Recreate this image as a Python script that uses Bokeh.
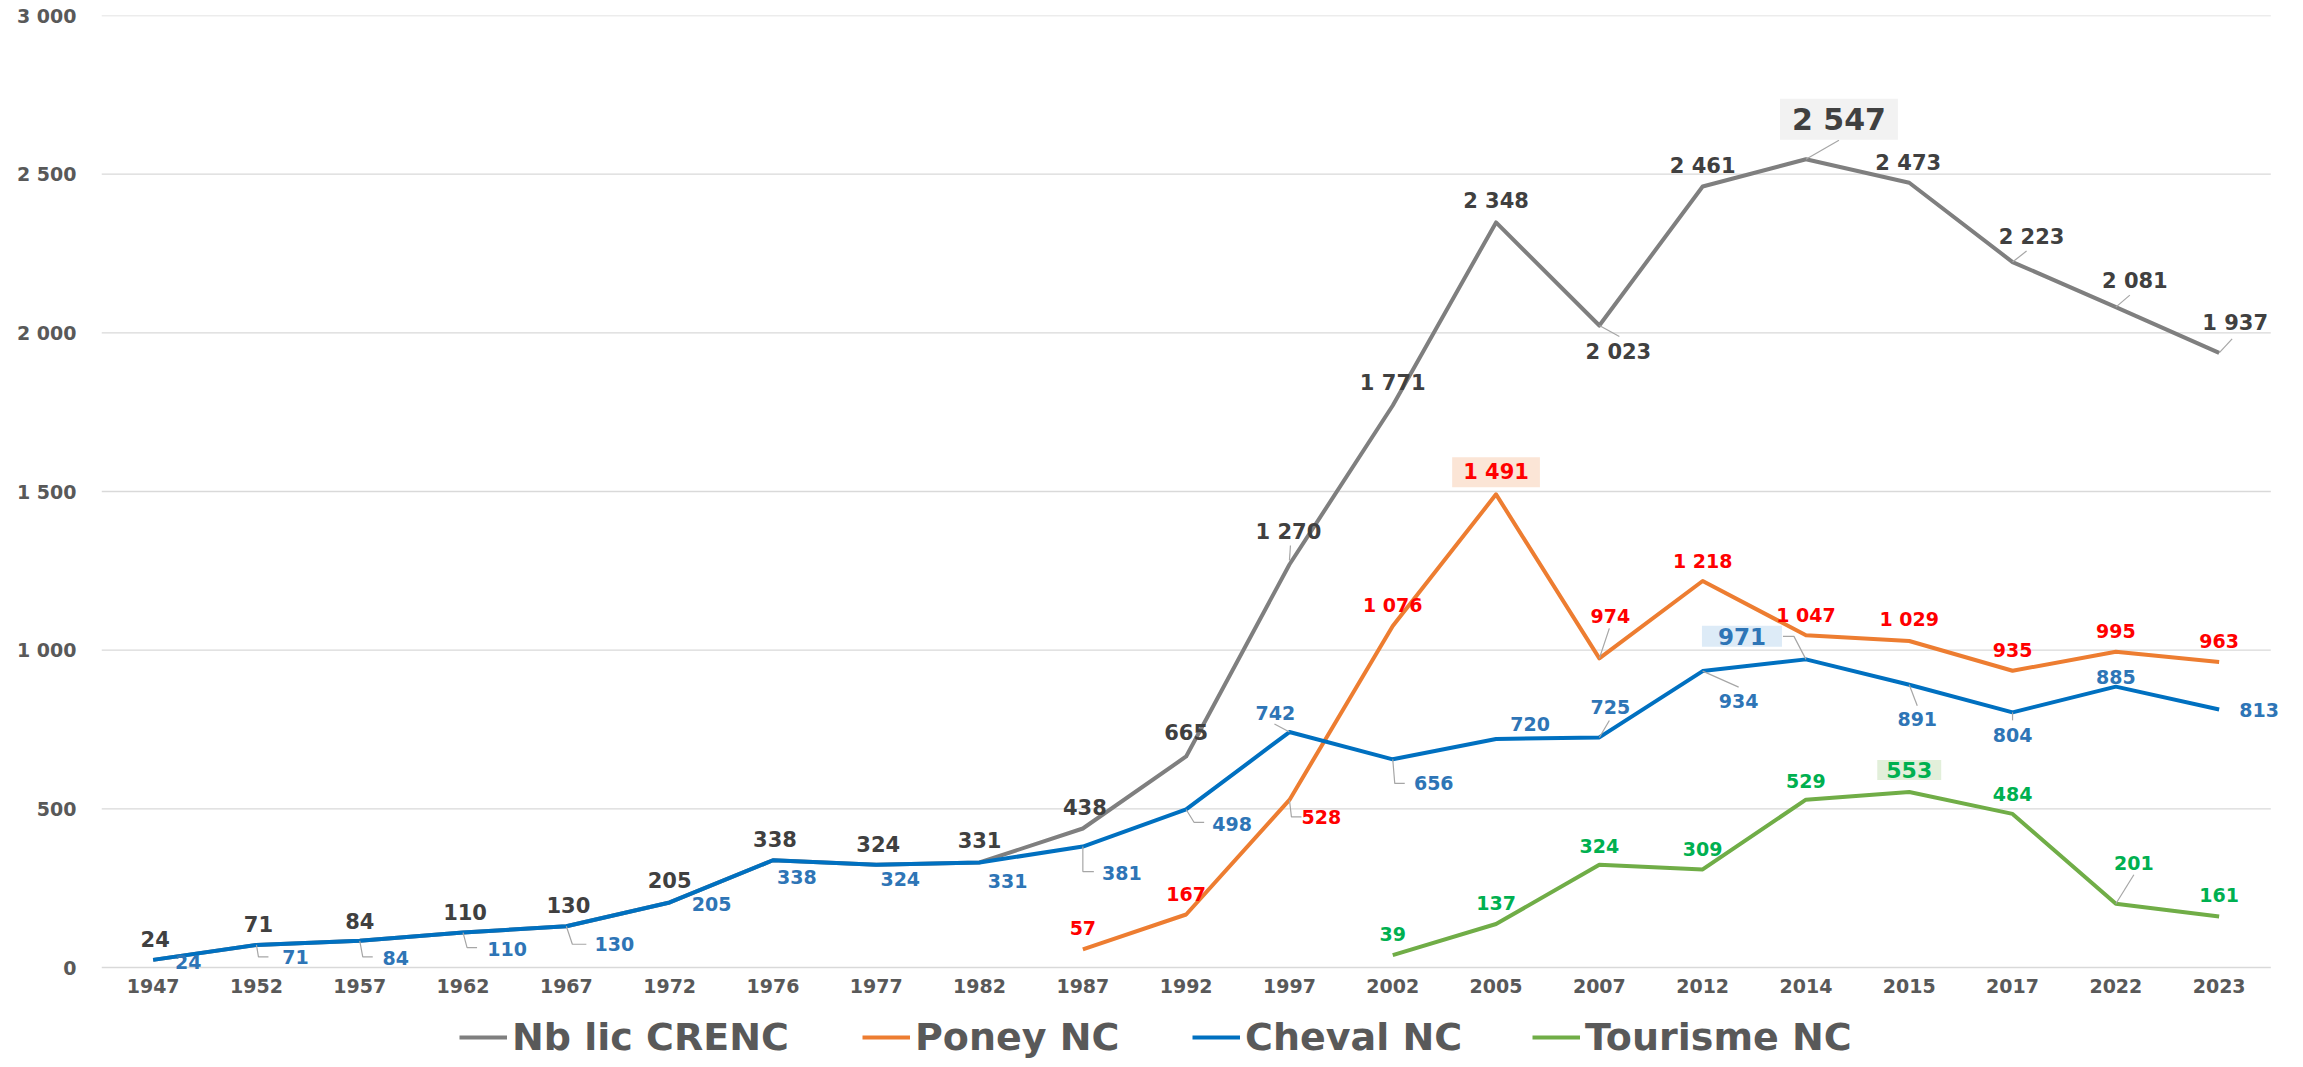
import math
from bokeh.plotting import figure
from bokeh.layouts import column
from bokeh.models import (ColumnDataSource, FixedTicker, Legend, LegendItem,
                          Range1d, LabelSet, Label)
from bokeh.core.properties import value
from bokeh.embed import file_html
from bokeh.resources import INLINE

# ---------------- data ----------------
years = ["1947", "1952", "1957", "1962", "1967", "1972", "1976", "1977", "1982",
         "1987", "1992", "1997", "2002", "2005", "2007", "2012", "2014", "2015",
         "2017", "2022", "2023"]
nb_lic_crenc = [24, 71, 84, 110, 130, 205, 338, 324, 331, 438, 665, 1270, 1771,
                2348, 2023, 2461, 2547, 2473, 2223, 2081, 1937]
poney_nc = [None] * 9 + [57, 167, 528, 1076, 1491, 974, 1218, 1047, 1029, 935, 995, 963]
cheval_nc = [24, 71, 84, 110, 130, 205, 338, 324, 331, 381, 498, 742, 656, 720,
             725, 934, 971, 891, 804, 885, 813]
tourisme_nc = [None] * 12 + [39, 137, 324, 309, 529, 553, 484, 201, 161]
series_names = ["Nb lic CRENC", "Poney NC", "Cheval NC", "Tourisme NC"]
y_ticks = [0, 500, 1000, 1500, 2000, 2500, 3000]

# ---------------- styling ----------------
FONT = "DejaVu Sans"
W, H = 2287, 1000                 # main chart
H_LEG = 59                        # legend strip below it
BL, BR, BT, BB = 101, 5, 15, 30
FW, FH = W - BL - BR, H - BT - BB
PX_X = 103.3                      # px per category
PX_Y = 952 / 3000.0               # px per licence
Y_MAX = 3000
Y_MIN = Y_MAX - FH / PX_Y
X_MIN = -0.5
X_MAX = X_MIN + FW / PX_X

line_colors = ["#7F7F7F", "#ED7D31", "#0070C0", "#70AD47"]
label_colors = ["#404040", "#FF0000", "#2E75B6", "#00B050"]
label_sizes = ["21px", "19px", "19px", "19px"]

# label offsets (screen px, dy positive = downward)
gray_off = [(2, -21), (2, -21), (0, -20), (2, -21), (2, -21), (0, -22), (2, -21), (2, -21),
            (0, -22), (2, -22), (0, -24), (-1, -32), (0, -23), (0, -21), (19, 26), (0, -21),
            (33, -40), (-1, -20), (19, -25), (19, -26), (16, -30)]
orange_off = [None] * 9 + [(0, -21), (0, -21), (32, 17), (0, -21), (0, -22), (11, -42),
                           (0, -20), (0, -20), (0, -22), (0, -21), (0, -21), (0, -21)]
blue_off = [(35, 2), (39, 12), (36, 17), (44, 16), (48, 18), (42, 2), (24, 17), (24, 14),
            (28, 19), (39, 26), (46, 15), (-14, -19), (41, 24), (34, -15), (11, -30),
            (36, 30), (-64, -23), (8, 34), (0, 23), (0, -10), (40, 0)]
green_off = [None] * 12 + [(0, -21), (0, -21), (0, -19), (0, -20), (0, -19), (0, -22),
                           (0, -20), (18, -41), (0, -21)]
offsets = [gray_off, orange_off, blue_off, green_off]

# highlighted (boxed) labels: series index -> (point index, font size, box colour, padding)
boxed = {0: (16, "30px", "#F2F2F2", (12, 3)),
         1: (13, "21px", "#FBE5D6", (11, 3)),
         2: (16, "23px", "#DDEBF7", (16, 2)),
         3: (17, "22px", "#E2EFDA", (9, 2))}

# leader lines: (series index, point index, polyline offsets in px, dy down)
leaders = [
    (0, 11, [(0, -4), (1, -19)]),
    (0, 14, [(0, 0), (20, 11)]),
    (0, 16, [(0, 0), (33, -19)]),
    (0, 18, [(0, 0), (14, -11)]),
    (0, 19, [(0, 0), (14, -12)]),
    (0, 20, [(0, 0), (13, -14)]),
    (1, 11, [(0, 0), (2, 17), (12, 17)]),
    (1, 14, [(0, 0), (10, -30)]),
    (2, 1, [(0, 0), (2, 12), (12, 12)]),
    (2, 2, [(0, 0), (3, 16), (13, 16)]),
    (2, 3, [(0, 0), (4, 15), (14, 15)]),
    (2, 4, [(0, 0), (6, 18), (20, 18)]),
    (2, 9, [(0, 0), (0, 25), (11, 25)]),
    (2, 10, [(0, 0), (8, 13), (18, 13)]),
    (2, 11, [(0, 0), (-15, -8)]),
    (2, 12, [(0, 0), (2, 24), (12, 24)]),
    (2, 14, [(0, 0), (10, -17)]),
    (2, 15, [(0, 0), (36, 16)]),
    (2, 16, [(0, 0), (-12, -23), (-23, -23)]),
    (2, 17, [(0, 0), (8, 21)]),
    (2, 18, [(0, 0), (0, 8)]),
    (3, 19, [(0, 0), (18, -29)]),
]

# legend item glyph start (px from the page left) and bottom offset in the legend strip
legend_x = [459, 862, 1192, 1532]
LEGEND_Y = 0


def fmt(v):
    return f"{int(v):,}".replace(",", " ")


series = [nb_lic_crenc, poney_nc, cheval_nc, tourisme_nc]
xs = list(range(len(years)))

p = figure(width=W, height=H, output_backend="svg", toolbar_location=None, tools="",
           x_range=Range1d(X_MIN, X_MAX), y_range=Range1d(Y_MIN, Y_MAX),
           min_border_left=BL, min_border_right=BR, min_border_top=BT,
           min_border_bottom=BB)
p.outline_line_color = None
p.background_fill_color = "white"
p.border_fill_color = "white"
p.xgrid.grid_line_color = None
p.ygrid.grid_line_color = None

p.yaxis.ticker = FixedTicker(ticks=y_ticks)
p.yaxis.major_label_overrides = {t: fmt(t) for t in y_ticks}
p.xaxis.ticker = FixedTicker(ticks=xs)
p.xaxis.major_label_overrides = {i: y for i, y in enumerate(years)}
for ax in (p.xaxis, p.yaxis):
    ax.axis_line_color = None
    ax.major_tick_line_color = None
    ax.minor_tick_line_color = None
    ax.major_tick_out = 0
    ax.major_tick_in = 0
    ax.major_label_text_font = FONT
    ax.major_label_text_font_style = "bold"
    ax.major_label_text_color = "#595959"
p.yaxis.major_label_text_font_size = "19px"
p.yaxis.major_label_standoff = 25
p.xaxis.major_label_text_font_size = "19px"
p.xaxis.major_label_standoff = 8

# horizontal gridlines, limited to the category span
p.segment(x0=[X_MIN] * len(y_ticks), x1=[len(years) - 0.5] * len(y_ticks),
          y0=y_ticks, y1=y_ticks, line_color="#D9D9D9", line_width=1.4)

for k, vals in enumerate(series):
    ys = [math.nan if v is None else v for v in vals]
    p.line(xs, ys, line_color=line_colors[k], line_width=4, line_join="round")

# leader lines
lx, ly = [], []
for k, i, pts in leaders:
    v = series[k][i]
    lx.append([i + dx / PX_X for dx, dy in pts])
    ly.append([v - dy / PX_Y for dx, dy in pts])
p.multi_line(lx, ly, line_color="#A6A6A6", line_width=1.2)

# data labels
for k, vals in enumerate(series):
    bi = boxed[k][0]
    d = dict(x=[], y=[], text=[], dx=[], dy=[])
    for i, v in enumerate(vals):
        if v is None or i == bi:
            continue
        ox, oy = offsets[k][i]
        d["x"].append(i)
        d["y"].append(v)
        d["text"].append(fmt(v))
        d["dx"].append(ox)
        d["dy"].append(-oy)
    ls = LabelSet(x="x", y="y", text="text", x_offset="dx", y_offset="dy",
                  source=ColumnDataSource(d), text_align="center", text_baseline="middle",
                  text_font=value(FONT), text_font_style="bold",
                  text_font_size=label_sizes[k], text_color=label_colors[k])
    p.add_layout(ls)
    size, fill, pad = boxed[k][1], boxed[k][2], boxed[k][3]
    ox, oy = offsets[k][bi]
    lab = Label(x=bi, y=vals[bi], text=fmt(vals[bi]), x_offset=ox, y_offset=-oy,
                text_align="center", text_baseline="middle", text_font=FONT,
                text_font_style="bold", text_font_size=size, text_color=label_colors[k],
                background_fill_color=fill, padding=pad)
    p.add_layout(lab)

# legend strip (a second figure; its frame is aligned with the chart's frame)
pl = figure(width=W, height=H_LEG, output_backend="svg", toolbar_location=None, tools="",
            x_range=Range1d(0, 1), y_range=Range1d(0, 1),
            x_axis_type=None, y_axis_type=None,
            min_border_left=BL, min_border_right=BR, min_border_top=0, min_border_bottom=0)
pl.outline_line_color = None
pl.xgrid.grid_line_color = None
pl.ygrid.grid_line_color = None
pl.background_fill_color = "white"
pl.border_fill_color = "white"
for k, name in enumerate(series_names):
    # off-range line: only its legend glyph is visible
    r = pl.line(x=[0, 1], y=[-5, -5], line_color=line_colors[k], line_width=4)
    leg = Legend(items=[LegendItem(label=name, renderers=[r])],
                 location=(legend_x[k] - BL, LEGEND_Y), orientation="horizontal",
                 padding=0, margin=0, spacing=0, glyph_width=48, glyph_height=20,
                 label_standoff=5, label_text_font=FONT, label_text_font_style="bold",
                 label_text_font_size="38px", label_text_color="#595959",
                 border_line_color=None, background_fill_alpha=0)
    pl.add_layout(leg)

layout = column(p, pl, spacing=0)
open("out.html", "w").write(file_html(layout, INLINE))
